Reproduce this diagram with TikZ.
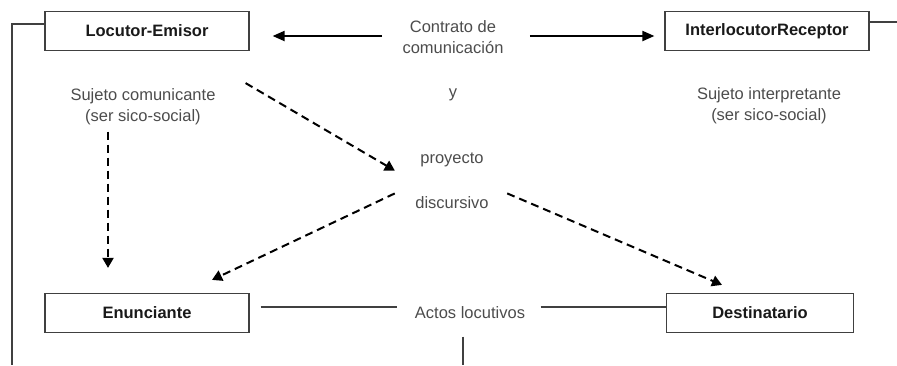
\documentclass[tikz,border=0pt]{standalone}
\usepackage{fontspec}
\setmainfont{Liberation Sans}
\usetikzlibrary{arrows.meta}
\newcommand\lblsize{\fontsize{16.5}{21}\selectfont}
\begin{document}
\begin{tikzpicture}[
x=1pt,y=-1pt,
role/.style={draw=black!75,line width=1.2pt,minimum height=39pt,font=\lblsize\bfseries,text=black!90},
note/.style={align=center,font=\lblsize,text=black!70},
link/.style={line width=2pt,-{Triangle[length=12pt,width=10pt]}},
dlink/.style={line width=2pt,dash pattern=on 8pt off 5pt,-{Triangle[length=10pt,width=11pt]}},
wire/.style={draw=black!75,line width=1.2pt},
]
\useasboundingbox (0,0) rectangle (897,365);
% boxes
\node[role,minimum width=204pt] (emisor) at (147,31) {Locutor-Emisor};
\node[role,minimum width=204pt] (receptor) at (767,31) {InterlocutorReceptor};
\node[role,minimum width=204pt] (enunc) at (147,313) {Enunciante};
\node[role,minimum width=187pt] (dest) at (760,313) {Destinatario};
% texts
\node[note] (contrato) at (453,37) {Contrato de\\comunicación};
\node[note] (y) at (453,95) {y};
\node[note] (comun) at (143,107) {Sujeto comunicante\\(ser sico-social)};
\node[note] (interp) at (769,106) {Sujeto interpretante\\(ser sico-social)};
\node[note] (proy) at (452,160) {proyecto};
\node[note] (disc) at (452,203) {discursivo};
\node[note] (actos) at (470,313) {Actos locutivos};
\coordinate (bl) at (12,365);
\coordinate (br) at (897,22);
\coordinate (bm) at (463,365);
% contract arrows
\draw[link,shorten <=17pt,shorten >=23pt] ([yshift=1pt]contrato.west) -- ([yshift=1pt]contrato.west -| emisor.east);
\draw[link,shorten <=23pt,shorten >=10pt] ([yshift=1pt]contrato.east) -- ([yshift=1pt]contrato.east -| receptor.west);
% frame
\draw[wire] ([yshift=7pt]emisor.west) -| (bl);
\draw[wire] ([yshift=9pt]receptor.east) -- (br);
\draw[wire] ([xshift=11pt,yshift=6pt]enunc.east) -- ([xshift=-14pt,yshift=6pt]actos.west);
\draw[wire] ([xshift=12pt,yshift=6pt]actos.east) -- ([yshift=6pt]dest.west);
\draw[wire] ([xshift=-7pt,yshift=-14pt]actos.south) -- (bm);
% dashed
\draw[dlink] ([xshift=-35pt,yshift=-3pt]comun.south) -- ([xshift=-39pt,yshift=25pt]enunc.north);
\draw[dlink] ([xshift=-4pt,yshift=-32pt]emisor.south east) -- ([xshift=-22pt]proy.south west);
\draw[dlink] ([xshift=-17pt]disc.north west) -- ([xshift=65pt,yshift=13pt]enunc.north);
\draw[dlink] ([xshift=15pt]disc.north east) -- ([xshift=-38pt,yshift=8pt]dest.north);
\end{tikzpicture}
\end{document}
